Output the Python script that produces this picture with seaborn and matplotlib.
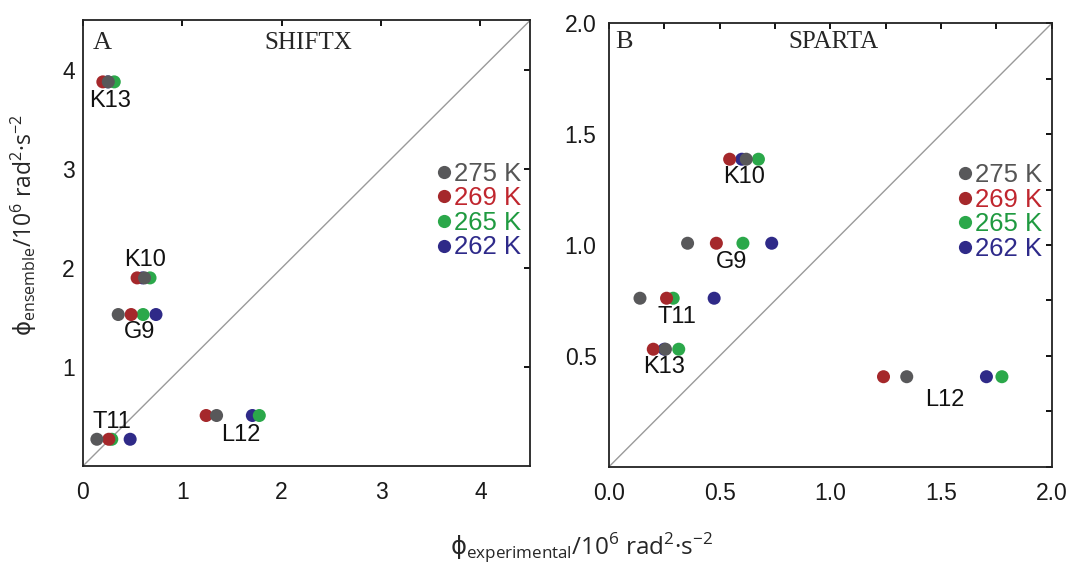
import matplotlib
matplotlib.use("Agg")
import matplotlib.pyplot as plt
from matplotlib.lines import Line2D
from matplotlib.ticker import FixedLocator, MultipleLocator
import pandas as pd
import seaborn as sns

# ---- data -------------------------------------------------------------
residues = ["G9", "K10", "T11", "L12", "K13"]
temperatures = ["262 K", "265 K", "269 K", "275 K"]      # drawing order (275 K on top)
legend_order = ["275 K", "269 K", "265 K", "262 K"]

# experimental order parameter (10^6 rad^2 s^-2), per temperature, per residue
phi_exp_275 = [0.355, 0.62, 0.14, 1.345, 0.255]
phi_exp_269 = [0.485, 0.545, 0.26, 1.24, 0.20]
phi_exp_265 = [0.605, 0.675, 0.29, 1.775, 0.315]
phi_exp_262 = [0.735, 0.60, 0.475, 1.705, 0.25]

# ensemble values predicted with SHIFTX and SPARTA, per residue
phi_shiftx = [1.53, 1.90, 0.27, 0.51, 3.88]
phi_sparta = [1.008, 1.387, 0.76, 0.406, 0.53]

phi_exp = {"275 K": phi_exp_275, "269 K": phi_exp_269,
           "265 K": phi_exp_265, "262 K": phi_exp_262}

dot_colors = {"275 K": "#58585a", "269 K": "#a5282b",
              "265 K": "#2ba84a", "262 K": "#2f2a88"}
text_colors = {"275 K": "#555555", "269 K": "#c0262e",
               "265 K": "#1f9a40", "262 K": "#2e2a8a"}


def long_table(ensemble):
    rows = []
    for t in temperatures:
        for res, xe, ye in zip(residues, phi_exp[t], ensemble):
            rows.append({"residue": res, "temperature": t,
                         "experimental": xe, "ensemble": ye})
    return pd.DataFrame(rows)


# ---- style ------------------------------------------------------------
sns.set_theme(style="white")
plt.rcParams["font.family"] = ["Liberation Sans", "DejaVu Sans"]
plt.rcParams["axes.edgecolor"] = "#222222"
plt.rcParams["axes.linewidth"] = 1.3
plt.rcParams["mathtext.fontset"] = "custom"
plt.rcParams["mathtext.sf"] = "DejaVu Sans"

fig = plt.figure(figsize=(10.72, 5.63), dpi=100)
axA = fig.add_axes([0.0774, 0.1723, 0.4170, 0.7913])
axB = fig.add_axes([0.5681, 0.1710, 0.4130, 0.7876])

panels = [
    dict(ax=axA, ens=phi_shiftx, lim=4.5, letter="A", name="SHIFTX",
         letter_xy=(0.022, 0.950), name_xy=(0.505, 0.950),
         xticks=[0, 1, 2, 3, 4], yticks=[1, 2, 3, 4], minor=None,
         fmt="{:g}", ypad=6, legend_xy=(0.980, 0.573),
         labels={"K13": (0.275, 3.69), "K10": (0.627, 2.077),
                 "G9": (0.574, 1.354), "T11": (0.289, 0.447),
                 "L12": (1.59, 0.3125)}),
    dict(ax=axB, ens=phi_sparta, lim=2.0, letter="B", name="SPARTA",
         letter_xy=(0.0136, 0.958), name_xy=(0.507, 0.958),
         xticks=[0, 0.5, 1.0, 1.5, 2.0], yticks=[0.5, 1.0, 1.5, 2.0], minor=0.25,
         fmt="{:.1f}", ypad=9, legend_xy=(0.978, 0.574),
         labels={"K10": (0.611, 1.305), "G9": (0.554, 0.925),
                 "T11": (0.306, 0.677), "K13": (0.248, 0.448),
                 "L12": (1.517, 0.301)}),
]

for p in panels:
    ax = p["ax"]
    df = long_table(p["ens"])
    lim = p["lim"]

    # identity line
    ax.plot([0, lim], [0, lim], color="#9a9a9a", lw=1.0, zorder=1)

    sns.scatterplot(data=df, x="experimental", y="ensemble", hue="temperature",
                    hue_order=temperatures, palette=dot_colors, s=88,
                    linewidth=0, alpha=1, legend=False, ax=ax, zorder=3)

    ax.set_xlim(0, lim)
    ax.set_ylim(0, lim)
    ax.set_xlabel("")
    ax.set_ylabel("")

    ax.xaxis.set_major_locator(FixedLocator(p["xticks"]))
    ax.yaxis.set_major_locator(FixedLocator(p["yticks"]))
    ax.set_xticklabels([p["fmt"].format(v) for v in p["xticks"]])
    ax.set_yticklabels([p["fmt"].format(v) for v in p["yticks"]])
    if p["minor"]:
        ax.xaxis.set_minor_locator(MultipleLocator(p["minor"]))
        ax.yaxis.set_minor_locator(MultipleLocator(p["minor"]))
    ax.tick_params(which="both", direction="in", top=True, right=True,
                   length=4, width=1.4, color="#111111", labelsize=16.5,
                   labelcolor="#1a1a1a")
    ax.tick_params(axis="x", which="both", pad=11)
    ax.tick_params(axis="y", which="both", pad=p["ypad"])
    for s in ax.spines.values():
        s.set_visible(True)

    # panel letter and method name
    ax.text(*p["letter_xy"], p["letter"], transform=ax.transAxes,
            family="Liberation Serif", fontsize=19, ha="left", va="center")
    ax.text(*p["name_xy"], p["name"], transform=ax.transAxes,
            family="Liberation Serif", fontsize=18, ha="center", va="center")

    # residue labels
    for res, (lx, ly) in p["labels"].items():
        ax.text(lx, ly, res, fontsize=17, ha="center", va="center",
                color="#111111")

    handles = [Line2D([], [], marker="o", ls="", markersize=9.5,
                      markeredgewidth=0, color=dot_colors[t])
               for t in legend_order]
    ax.legend(handles, legend_order, loc="center right",
              bbox_to_anchor=p["legend_xy"], frameon=False,
              handlelength=0.55, handletextpad=0.1, labelspacing=0.02,
              borderpad=0, borderaxespad=0, fontsize=18.5,
              labelcolor=[text_colors[t] for t in legend_order])

label_font = ["Open Sans", "DejaVu Sans"]
fig.text(582 / 1072, 1 - 548 / 563,
         "$\\mathsf{ϕ}_{\\mathregular{experimental}}$/10$^{\\mathregular{6}}$ "
         "rad$^{\\mathregular{2}}$·s$^{\\mathregular{-2}}$",
         family=label_font, fontsize=17.5, ha="center", va="center")
fig.text(24 / 1072, 1 - 225 / 563,
         "$\\mathsf{ϕ}_{\\mathregular{ensemble}}$/10$^{\\mathregular{6}}$ "
         "rad$^{\\mathregular{2}}$·s$^{\\mathregular{-2}}$",
         family=label_font, fontsize=16.5, ha="center", va="center",
         rotation=90)

fig.savefig("out.png", dpi=100, facecolor="white")
